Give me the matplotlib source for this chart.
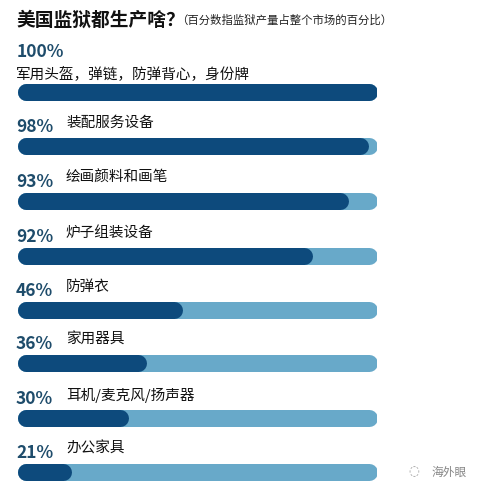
"""
美国监狱产品占比 - 横向进度条图
"""

import matplotlib
matplotlib.use('Agg')
import matplotlib.pyplot as plt

plt.rcParams['font.family'] = ['Noto Sans CJK SC', 'DejaVu Sans']

# datos
title = '美国监狱都生产啥？'
subtitle = '（百分数指监狱产量占整个市场的百分比）'
pct_labels = ['100%', '98%', '93%', '92%', '46%', '36%', '30%', '21%']
items = ['军用头盔，弹链，防弹背心，身份牌', '装配服务设备', '绘画颜料和画笔',
         '炉子组装设备', '防弹衣', '家用器具', '耳机/麦克风/扬声器', '办公家具']
# longitud de la barra oscura tal como se ve en la imagen (% de la pista)
fill = [100, 97.5, 92, 82, 46, 36, 31, 15]

DARK = '#0d4a7c'
LIGHT = '#68a9c9'
PCT_COLOR = '#1e4c6b'

W, H = 479, 495
fig = plt.figure(figsize=(W / 100, H / 100), dpi=100)
fig.patch.set_facecolor('white')

# ejes de texto en pixeles
ax = fig.add_axes([0, 0, 1, 1])
ax.set_xlim(0, W)
ax.set_ylim(H, 0)
ax.axis('off')

# ejes de barras: 0-100 a lo ancho de la pista
bx0, bx1 = 17, 377
axb = fig.add_axes([bx0 / W, 0, (bx1 - bx0) / W, 1])
axb.set_xlim(0, 100)
axb.set_ylim(H, 0)
axb.axis('off')

ax.text(16, 20, title, fontsize=13.5, fontweight='bold', color='#111111',
        va='center', ha='left')
ax.text(176, 20, subtitle, fontsize=8.2, color='#222222', va='center', ha='left')

bar_h = 17  # px
lw = bar_h * 72 / 100
cap = (bar_h / 2) / ((bx1 - bx0) / 100)  # media altura en unidades x

bar_y = [92, 146, 201, 256, 310, 363, 418, 472]
for i, (p, lab, f, y) in enumerate(zip(pct_labels, items, fill, bar_y)):
    if i == 0:
        ax.text(17, 52, p, fontsize=12.5, fontweight='bold', color=PCT_COLOR,
                va='center', ha='left')
        ax.text(16, 74, lab, fontsize=10.5, color='#111111', va='center', ha='left')
    else:
        ax.text(16, y - 19, p, fontsize=12.5, fontweight='bold', color=PCT_COLOR,
                va='center', ha='left')
        ax.text(66, y - 23, lab, fontsize=10.5, color='#111111', va='center', ha='left')
    axb.plot([cap, 100 - cap], [y, y], color=LIGHT, lw=lw, solid_capstyle='round')
    axb.plot([cap, f - cap], [y, y], color=DARK, lw=lw, solid_capstyle='round')

# marca de agua
ax.text(408, 472, '\u25cc', fontsize=9, color='#999999', va='center', ha='left',
        family=['DejaVu Sans'])
ax.text(432, 472, '海外眼', fontsize=8.5, color='#888888', va='center', ha='left')

fig.savefig('out.png', dpi=100, facecolor='white')
